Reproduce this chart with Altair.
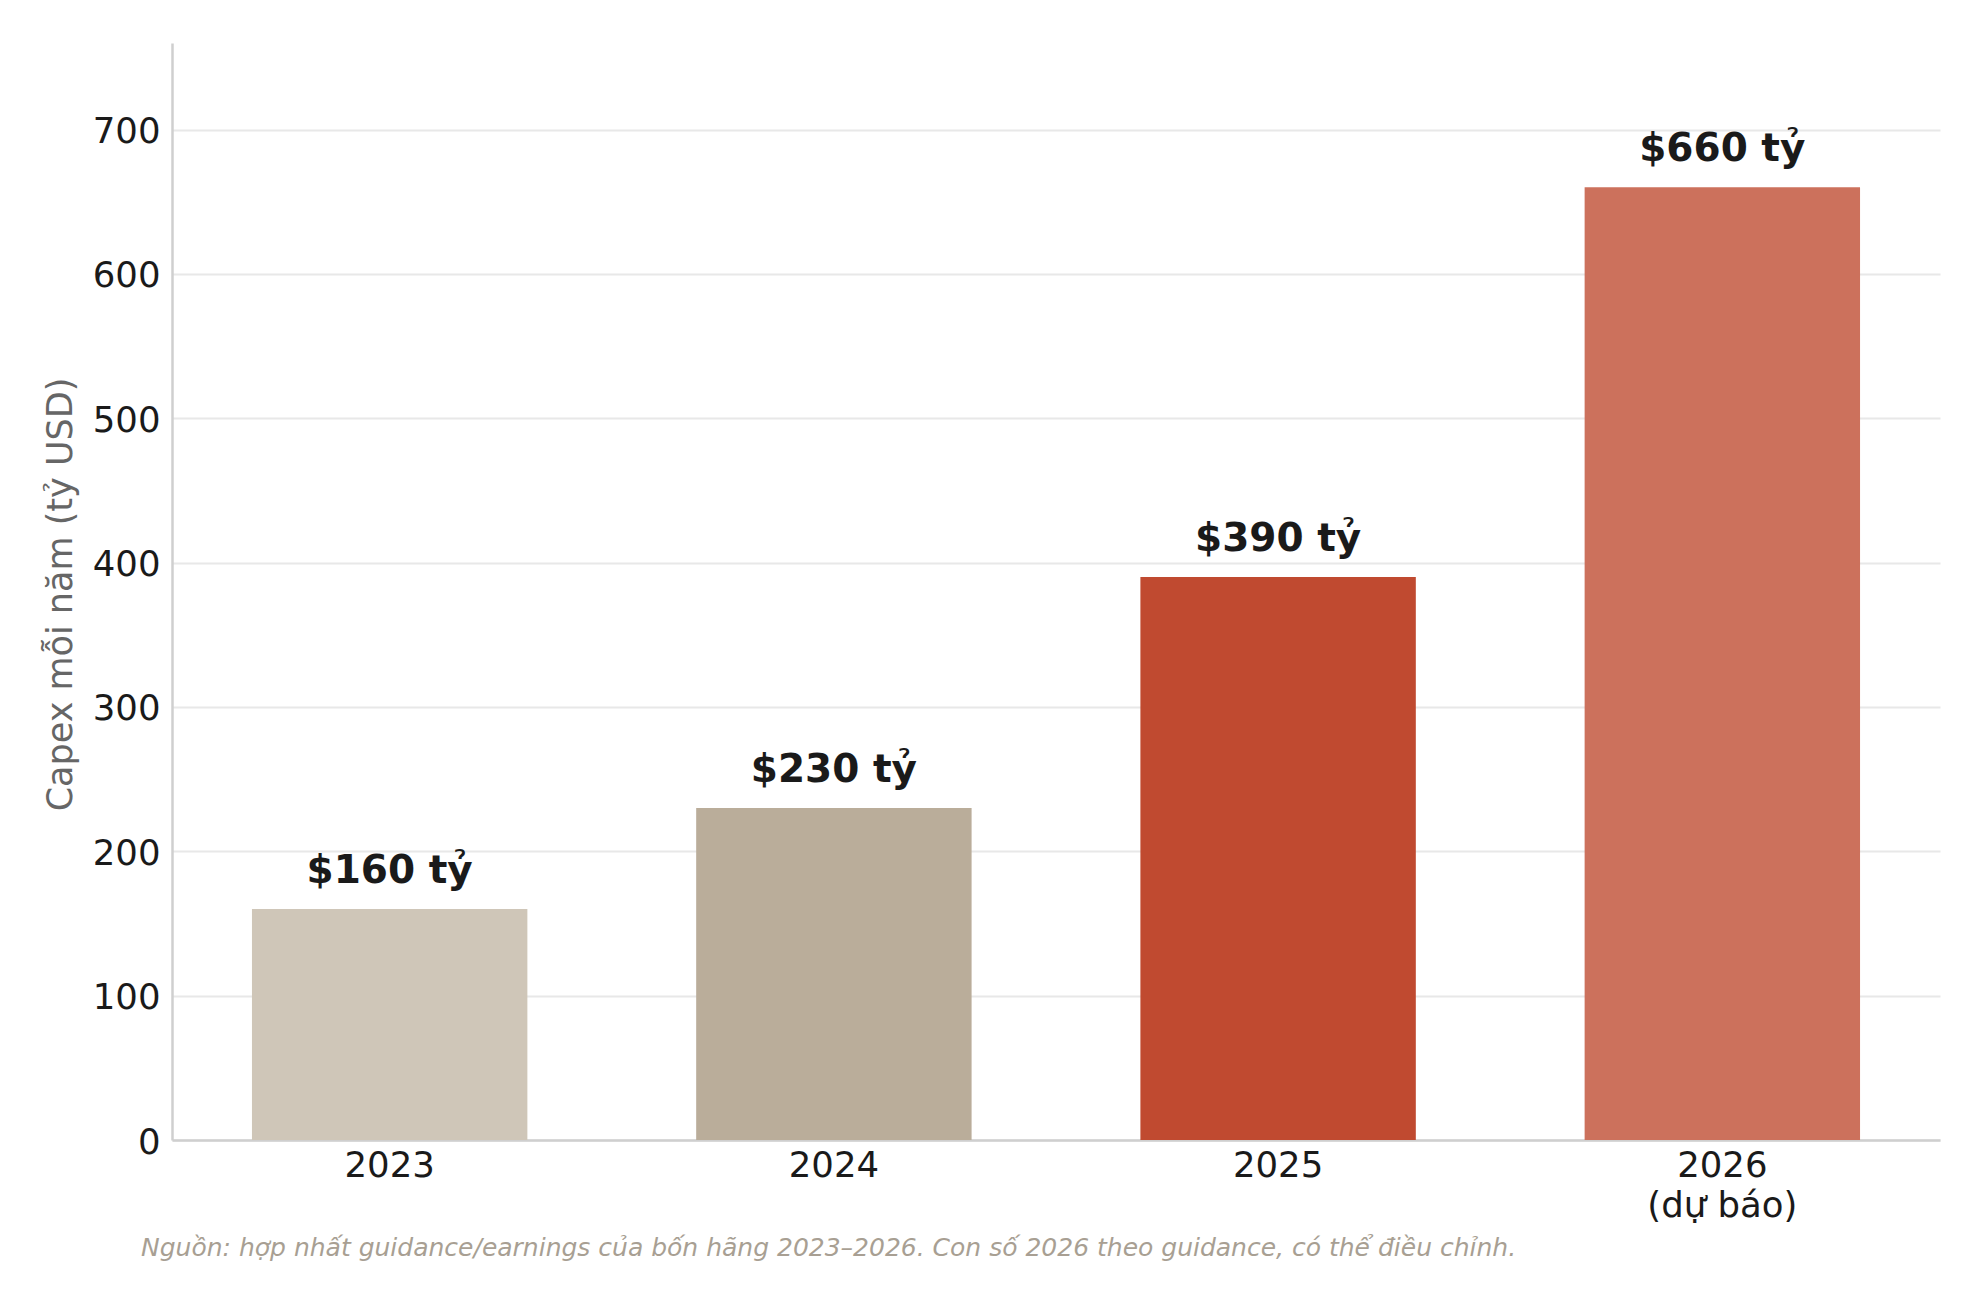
import altair as alt
import pandas as pd

years = ["2023", "2024", "2025", "2026\n(dự báo)"]
values = [160, 230, 390, 660]
labels = ["$160 tỷ", "$230 tỷ", "$390 tỷ", "$660 tỷ"]
colors = ["#cfc6b8", "#baad9a", "#c04a30", "#cc715c"]
y_ticks = [0, 100, 200, 300, 400, 500, 600, 700]
y_title = "Capex mỗi năm (tỷ USD)"
footnote = "Nguồn: hợp nhất guidance/earnings của bốn hãng 2023–2026. Con số 2026 theo guidance, có thể điều chỉnh."

FONT = "DejaVu Sans"

df = pd.DataFrame({"year": years, "value": values, "label": labels, "color": colors})

x_enc = alt.X(
    "year:N",
    sort=years,
    scale=alt.Scale(paddingInner=0.38, paddingOuter=0.18),
    axis=alt.Axis(
        title=None,
        labelAngle=0,
        ticks=False,
        labelFontSize=35.5,
        labelFont=FONT,
        labelColor="#1a1a1a",
        labelPadding=8,
        labelLineHeight=40,
        labelExpr="split(datum.label, '\\n')",
        domainColor="#cfcfcf",
        domainWidth=2.5,
        grid=False,
    ),
)
y_enc = alt.Y(
    "value:Q",
    scale=alt.Scale(domain=[0, 760], nice=False),
    axis=alt.Axis(
        values=y_ticks,
        title=y_title,
        titleFont=FONT,
        titleFontSize=35,
        titleFontWeight="normal",
        titleColor="#666666",
        titleAngle=-90,
        titleX=-112,
        titleY=551,
        titleAlign="center",
        titleBaseline="middle",
        ticks=False,
        labelFontSize=35.5,
        labelFont=FONT,
        labelColor="#1a1a1a",
        labelPadding=12,
        labelOffset=2,
        domainColor="#cfcfcf",
        domainWidth=2.5,
        gridColor="#e8e8e8",
        gridWidth=2,
    ),
)

base = alt.Chart(df)
bars = base.mark_bar().encode(
    x=x_enc,
    y=y_enc,
    color=alt.Color("color:N", scale=None),
)
text = base.mark_text(
    dy=-26,
    fontSize=39,
    fontWeight="bold",
    font=FONT,
    color="#1a1a1a",
    baseline="alphabetic",
).encode(
    x=alt.X("year:N", sort=years),
    y=alt.Y("value:Q"),
    text="label:N",
)
foot = alt.Chart(pd.DataFrame({"t": [footnote]})).mark_text(
    align="left",
    baseline="alphabetic",
    fontStyle="italic",
    fontSize=25,
    font=FONT,
    color="#a89f93",
).encode(x=alt.value(-31), y=alt.value(1213), text="t:N")

chart = (
    alt.layer(bars, text, foot)
    .properties(
        width=1768,
        height=1097,
        autosize="none",
        padding={"left": 164, "top": 35, "right": 30, "bottom": 150},
    )
    .configure_view(strokeWidth=0)
)

chart.save("out.html", embed_options={"renderer": "svg", "actions": False})
